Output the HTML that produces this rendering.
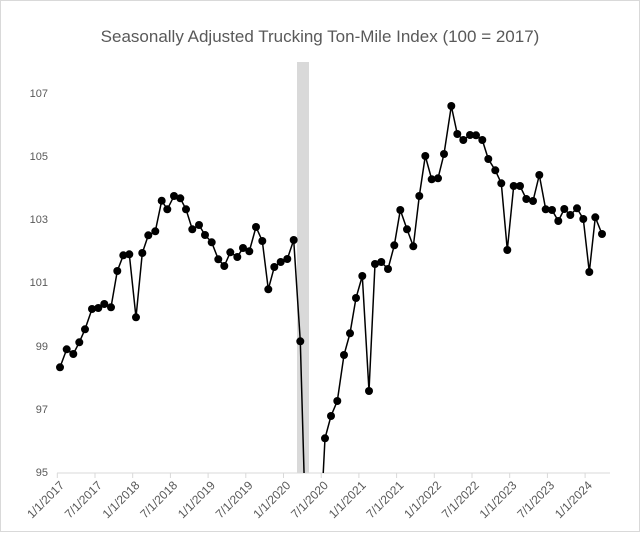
<!DOCTYPE html>
<html><head><meta charset="utf-8"><style>
html,body{margin:0;padding:0;background:#fff}
svg{display:block}
text{font-family:"Liberation Sans",sans-serif;fill:#595959}
</style></head><body>
<svg width="640" height="546" viewBox="0 0 640 546" xmlns="http://www.w3.org/2000/svg">
<rect x="0.5" y="0.5" width="639" height="531" fill="#fff" stroke="#d9d9d9"/>
<text x="320" y="42" font-size="17" text-anchor="middle">Seasonally Adjusted Trucking Ton-Mile Index (100 = 2017)</text>
<g font-size="11" text-anchor="end">
<text x="48" y="97">107</text>
<text x="48" y="160">105</text>
<text x="48" y="223">103</text>
<text x="48" y="286">101</text>
<text x="48" y="350">99</text>
<text x="48" y="413">97</text>
<text x="48" y="476">95</text>
</g>
<rect x="297" y="62" width="12" height="411" fill="#d9d9d9"/>
<line x1="57" y1="473" x2="610" y2="473" stroke="#d9d9d9"/>
<g stroke="#d9d9d9">
<line x1="57.3" y1="473" x2="57.3" y2="478"/><line x1="95" y1="473" x2="95" y2="478"/><line x1="132.7" y1="473" x2="132.7" y2="478"/><line x1="170.4" y1="473" x2="170.4" y2="478"/><line x1="208.1" y1="473" x2="208.1" y2="478"/><line x1="245.8" y1="473" x2="245.8" y2="478"/><line x1="283.5" y1="473" x2="283.5" y2="478"/><line x1="321.2" y1="473" x2="321.2" y2="478"/><line x1="358.9" y1="473" x2="358.9" y2="478"/><line x1="396.6" y1="473" x2="396.6" y2="478"/><line x1="434.3" y1="473" x2="434.3" y2="478"/><line x1="472" y1="473" x2="472" y2="478"/><line x1="509.7" y1="473" x2="509.7" y2="478"/><line x1="547.4" y1="473" x2="547.4" y2="478"/><line x1="585.1" y1="473" x2="585.1" y2="478"/>
</g>
<g font-size="12" text-anchor="end">
<text transform="translate(65,486) rotate(-45)">1/1/2017</text>
<text transform="translate(102.7,486) rotate(-45)">7/1/2017</text>
<text transform="translate(140.4,486) rotate(-45)">1/1/2018</text>
<text transform="translate(178.1,486) rotate(-45)">7/1/2018</text>
<text transform="translate(215.8,486) rotate(-45)">1/1/2019</text>
<text transform="translate(253.5,486) rotate(-45)">7/1/2019</text>
<text transform="translate(291.2,486) rotate(-45)">1/1/2020</text>
<text transform="translate(328.9,486) rotate(-45)">7/1/2020</text>
<text transform="translate(366.6,486) rotate(-45)">1/1/2021</text>
<text transform="translate(404.3,486) rotate(-45)">7/1/2021</text>
<text transform="translate(442,486) rotate(-45)">1/1/2022</text>
<text transform="translate(479.7,486) rotate(-45)">7/1/2022</text>
<text transform="translate(517.4,486) rotate(-45)">1/1/2023</text>
<text transform="translate(555.1,486) rotate(-45)">7/1/2023</text>
<text transform="translate(592.8,486) rotate(-45)">1/1/2024</text>
</g>
<defs><clipPath id="c"><rect x="50" y="50" width="580" height="423"/></clipPath></defs>
<g clip-path="url(#c)">
<polyline fill="none" stroke="#000" stroke-width="1.5" points="60,367.3 66.7,349.3 73.3,354 79.3,342.3 85,329.3 92,309 98.3,308 104.3,304 111,307.3 117.3,271 123.3,255.3 129.3,254.3 136,317.3 142.3,253 148.3,235.3 155.3,231.3 161.7,200.7 167.3,209.3 174,196 180.3,198.3 186,209.3 192.3,229.3 199,225 205,235 211.7,242.3 218.3,259.3 224.3,266 230.3,252.3 237.3,257 243,248 249.3,251.3 256,227 262.3,241 268.3,289.3 274.3,267 280.7,262 287.3,259 293.7,240 300.3,341.3 306.5,560 318.8,560 325,438.3 331,416 337.3,401 344,355 350,333.3 356,298 362.3,276 369,391 375,264 381.3,262 388,269 394.3,245.3 400.3,210 407,229.3 413.3,246.3 419.3,196 425.3,156 431.7,179.3 438,178.3 444,154 451.3,106 457.3,134 463.3,140 470,135 476,135.3 482.3,140 488.3,159 495.3,170.3 501.3,183.3 507.3,250 513.7,186 520,186 526.3,199 533,201 539.3,175 545.7,209.3 552,210 558.3,221 564.3,209 570.3,215 577,208.3 583.3,219 589.3,272 595.3,217.3 602,234"/>
<g fill="#000">
<circle cx="60" cy="367.3" r="4"/><circle cx="66.7" cy="349.3" r="4"/><circle cx="73.3" cy="354" r="4"/><circle cx="79.3" cy="342.3" r="4"/><circle cx="85" cy="329.3" r="4"/><circle cx="92" cy="309" r="4"/><circle cx="98.3" cy="308" r="4"/><circle cx="104.3" cy="304" r="4"/><circle cx="111" cy="307.3" r="4"/><circle cx="117.3" cy="271" r="4"/><circle cx="123.3" cy="255.3" r="4"/><circle cx="129.3" cy="254.3" r="4"/><circle cx="136" cy="317.3" r="4"/><circle cx="142.3" cy="253" r="4"/><circle cx="148.3" cy="235.3" r="4"/><circle cx="155.3" cy="231.3" r="4"/><circle cx="161.7" cy="200.7" r="4"/><circle cx="167.3" cy="209.3" r="4"/><circle cx="174" cy="196" r="4"/><circle cx="180.3" cy="198.3" r="4"/><circle cx="186" cy="209.3" r="4"/><circle cx="192.3" cy="229.3" r="4"/><circle cx="199" cy="225" r="4"/><circle cx="205" cy="235" r="4"/><circle cx="211.7" cy="242.3" r="4"/><circle cx="218.3" cy="259.3" r="4"/><circle cx="224.3" cy="266" r="4"/><circle cx="230.3" cy="252.3" r="4"/><circle cx="237.3" cy="257" r="4"/><circle cx="243" cy="248" r="4"/><circle cx="249.3" cy="251.3" r="4"/><circle cx="256" cy="227" r="4"/><circle cx="262.3" cy="241" r="4"/><circle cx="268.3" cy="289.3" r="4"/><circle cx="274.3" cy="267" r="4"/><circle cx="280.7" cy="262" r="4"/><circle cx="287.3" cy="259" r="4"/><circle cx="293.7" cy="240" r="4"/><circle cx="300.3" cy="341.3" r="4"/>
<circle cx="325" cy="438.3" r="4"/><circle cx="331" cy="416" r="4"/><circle cx="337.3" cy="401" r="4"/><circle cx="344" cy="355" r="4"/><circle cx="350" cy="333.3" r="4"/><circle cx="356" cy="298" r="4"/><circle cx="362.3" cy="276" r="4"/><circle cx="369" cy="391" r="4"/><circle cx="375" cy="264" r="4"/><circle cx="381.3" cy="262" r="4"/><circle cx="388" cy="269" r="4"/><circle cx="394.3" cy="245.3" r="4"/><circle cx="400.3" cy="210" r="4"/><circle cx="407" cy="229.3" r="4"/><circle cx="413.3" cy="246.3" r="4"/><circle cx="419.3" cy="196" r="4"/><circle cx="425.3" cy="156" r="4"/><circle cx="431.7" cy="179.3" r="4"/><circle cx="438" cy="178.3" r="4"/><circle cx="444" cy="154" r="4"/><circle cx="451.3" cy="106" r="4"/><circle cx="457.3" cy="134" r="4"/><circle cx="463.3" cy="140" r="4"/><circle cx="470" cy="135" r="4"/><circle cx="476" cy="135.3" r="4"/><circle cx="482.3" cy="140" r="4"/><circle cx="488.3" cy="159" r="4"/><circle cx="495.3" cy="170.3" r="4"/><circle cx="501.3" cy="183.3" r="4"/><circle cx="507.3" cy="250" r="4"/><circle cx="513.7" cy="186" r="4"/><circle cx="520" cy="186" r="4"/><circle cx="526.3" cy="199" r="4"/><circle cx="533" cy="201" r="4"/><circle cx="539.3" cy="175" r="4"/><circle cx="545.7" cy="209.3" r="4"/><circle cx="552" cy="210" r="4"/><circle cx="558.3" cy="221" r="4"/><circle cx="564.3" cy="209" r="4"/><circle cx="570.3" cy="215" r="4"/><circle cx="577" cy="208.3" r="4"/><circle cx="583.3" cy="219" r="4"/><circle cx="589.3" cy="272" r="4"/><circle cx="595.3" cy="217.3" r="4"/><circle cx="602" cy="234" r="4"/>
</g>
</g>
</svg>
</body></html>
